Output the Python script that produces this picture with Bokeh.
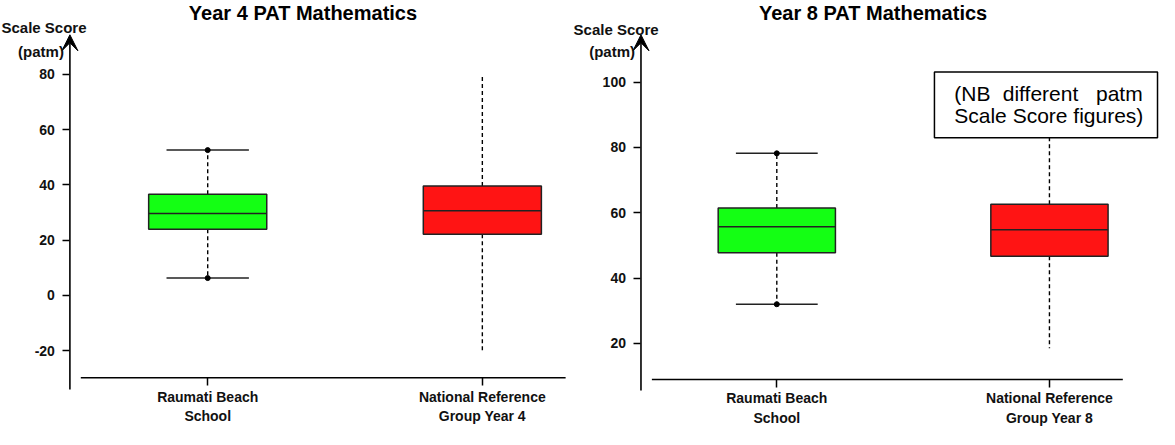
from bokeh.plotting import figure
from bokeh.layouts import row
from bokeh.models import Range1d, FixedTicker, Label, Arrow, VeeHead
from bokeh.embed import file_html
from bokeh.resources import INLINE
from bokeh.core.properties import value

FONT = "Liberation Sans"
TXT = "#111111"

# ---------------- data ----------------
y4_groups = ["Raumati Beach\nSchool", "National Reference\nGroup Year 4"]
y4_min = [6.3, -20.7]
y4_q1 = [24.0, 22.2]
y4_med = [29.7, 30.7]
y4_q3 = [36.6, 39.6]
y4_max = [52.6, 80.0]
y4_ticks = [-20, 0, 20, 40, 60, 80]

y8_groups = ["Raumati Beach\nSchool", "National Reference\nGroup Year 8"]
y8_min = [32.0, 18.5]
y8_q1 = [47.8, 46.7]
y8_med = [55.7, 54.8]
y8_q3 = [61.5, 62.6]
y8_max = [78.2, 90.0]
y8_ticks = [20, 40, 60, 80, 100]

fills = ["#14ff14", "#ff1414"]
capped = [True, False]

BOX_W = 0.43
CAP_W = 0.30
HEIGHT = 429


# reference-pixel -> data helpers (layout only)
def lx(px):
    return 1 + (px - 214) / 277.0


def ly(py):
    return (311 - py) / 2.82


def rx(px):
    return 1 + (px - 788) / 275.0


def ry(py):
    return 100 - (py - 93.3) / 3.333


def make_panel(width, xr, yr, px2x, py2y, groups, mins, q1, med, q3, maxs, ticks,
               title, geo):
    p = figure(width=width, height=HEIGHT, output_backend="svg", toolbar_location=None,
               x_range=Range1d(*xr), y_range=Range1d(*yr),
               min_border_left=0, min_border_right=0, min_border_top=0,
               min_border_bottom=0)
    p.title.visible = False
    p.grid.visible = False
    p.outline_line_color = None
    p.background_fill_color = "white"

    xs = [i + 1 for i in range(len(groups))]

    # y axis placed at its own location inside the frame
    p.yaxis.fixed_location = px2x(geo["yaxis_x"])
    p.yaxis.ticker = FixedTicker(ticks=ticks)
    p.yaxis.major_label_overrides = {t: str(t) for t in ticks}
    p.yaxis.axis_line_color = None
    p.yaxis.major_tick_line_width = 1.5
    p.yaxis.major_tick_line_color = "black"
    p.yaxis.major_tick_out = 7
    p.yaxis.major_tick_in = 0
    p.yaxis.minor_tick_line_color = None
    p.yaxis.major_label_standoff = 8
    p.yaxis.major_label_text_font = FONT
    p.yaxis.major_label_text_font_style = "bold"
    p.yaxis.major_label_text_font_size = "14px"
    p.yaxis.major_label_text_color = TXT

    # x axis
    p.xaxis.fixed_location = py2y(geo["xaxis_y"])
    p.xaxis.ticker = FixedTicker(ticks=xs)
    p.xaxis.major_label_overrides = {x: g for x, g in zip(xs, groups)}
    p.xaxis.axis_line_color = None
    p.xaxis.major_tick_line_color = "black"
    p.xaxis.major_tick_line_width = 1.5
    p.xaxis.minor_tick_line_color = None
    p.xaxis.major_tick_out = 8
    p.xaxis.major_tick_in = 0
    p.xaxis.major_label_standoff = 3
    p.xaxis.major_label_text_font = FONT
    p.xaxis.major_label_text_font_style = "bold"
    p.xaxis.major_label_text_font_size = "14px"
    p.xaxis.major_label_text_color = TXT

    # detached x-axis line
    yl = py2y(geo["xaxis_y"])
    p.segment(x0=[px2x(geo["xline"][0])], x1=[px2x(geo["xline"][1])], y0=[yl], y1=[yl],
              line_color="black", line_width=1.6)

    # whiskers
    p.segment(x0=xs, x1=xs, y0=q3, y1=maxs, line_color="black", line_width=1.4, line_dash="4 3")
    p.segment(x0=xs, x1=xs, y0=q1, y1=mins, line_color="black", line_width=1.4, line_dash="4 3")

    # caps + end points
    cx = [x for x, c in zip(xs, capped) if c]
    cmax = [v for v, c in zip(maxs, capped) if c]
    cmin = [v for v, c in zip(mins, capped) if c]
    for vals in (cmax, cmin):
        p.segment(x0=[x - CAP_W / 2 for x in cx], x1=[x + CAP_W / 2 for x in cx],
                  y0=vals, y1=vals, line_color="#222222", line_width=1.5)
        p.scatter(x=cx, y=vals, size=5, marker="circle", fill_color="black", line_color="black")

    # boxes
    p.vbar(x=xs, width=BOX_W, bottom=q1, top=q3, fill_color=fills,
           line_color="#222222", line_width=1.5)
    p.segment(x0=[x - BOX_W / 2 for x in xs], x1=[x + BOX_W / 2 for x in xs],
              y0=med, y1=med, line_color="#222222", line_width=1.5)

    # y axis line with arrow head
    ax = px2x(geo["yaxis_x"])
    p.add_layout(Arrow(end=VeeHead(size=16, fill_color="black", line_color="black", line_width=1),
                       x_start=ax, y_start=py2y(geo["yline_bottom"]), x_end=ax, y_end=py2y(45),
                       line_color="black", line_width=1.6))

    # title and axis label
    p.add_layout(Label(x=px2x(geo["title"][0]), y=py2y(geo["title"][1]), text=title,
                       text_font=FONT, text_font_style="bold", text_font_size="20px",
                       text_align="left", text_baseline="top", text_color="black"))
    p.add_layout(Label(x=px2x(geo["sl"][0]), y=py2y(geo["sl"][1]), text="Scale Score",
                       text_font=FONT, text_font_style="bold", text_font_size="15px",
                       text_align="left", text_baseline="alphabetic", text_color=TXT))
    p.add_layout(Label(x=px2x(geo["pl"][0]), y=py2y(geo["pl"][1]), text="(patm)",
                       text_font=FONT, text_font_style="bold", text_font_size="15px",
                       text_align="right", text_baseline="alphabetic", text_color=TXT))
    return p


S = 1159 / 1169.0  # horizontal ref px -> canvas px
KV = 0.98          # vertical ref px -> canvas px
TOP_REF = 10.0
BOT_REF = TOP_REF + HEIGHT / KV
SPLIT_REF = 5 + 570 / S
END_REF = SPLIT_REF + 589 / S

geo_left = dict(yaxis_x=75, xaxis_y=395, xline=(86, 575), yline_bottom=407,
                title=(195, 11.5), sl=(6, 38), pl=(69, 62))
geo_right = dict(yaxis_x=651, xaxis_y=396.7, xline=(662, 1137), yline_bottom=408,
                 title=(770, 12), sl=(583, 40), pl=(645, 62))

p1 = make_panel(570, (lx(5), lx(SPLIT_REF)), (ly(BOT_REF), ly(TOP_REF)), lx, ly, y4_groups,
                y4_min, y4_q1, y4_med, y4_q3, y4_max, y4_ticks,
                "Year 4 PAT Mathematics", geo_left)

p2 = make_panel(589, (rx(SPLIT_REF), rx(END_REF)), (ry(BOT_REF), ry(TOP_REF)), rx, ry, y8_groups,
                y8_min, y8_q1, y8_med, y8_q3, y8_max, y8_ticks,
                "Year 8 PAT Mathematics", geo_right)

# NB note box on the right panel
p2.quad(left=[rx(947)], right=[rx(1172)], bottom=[ry(150)], top=[ry(83)],
        fill_color="white", line_color="black", line_width=1.5)
note_font = value(FONT)
p2.text(x=[rx(967)], y=[ry(105)], text=["(NB"], text_font=note_font, text_font_size="21px",
        text_align="left", text_baseline="middle", text_color="black")
p2.text(x=[rx(1054)], y=[ry(105)], text=["different"], text_font=note_font, text_font_size="21px",
        text_align="center", text_baseline="middle", text_color="black")
p2.text(x=[rx(1157)], y=[ry(105)], text=["patm"], text_font=note_font, text_font_size="21px",
        text_align="right", text_baseline="middle", text_color="black")
p2.text(x=[rx(967)], y=[ry(127)], text=["Scale Score figures)"], text_font=note_font,
        text_font_size="21px", text_align="left", text_baseline="middle", text_color="black")

layout = row(p1, p2)
open("out.html", "w").write(file_html(layout, INLINE))
